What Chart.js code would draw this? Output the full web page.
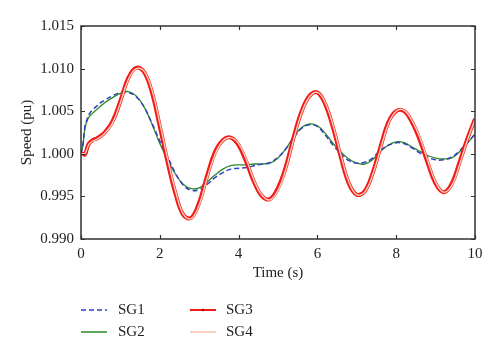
<!DOCTYPE html>
<html>
<head>
<meta charset="utf-8">
<script src="https://cdn.jsdelivr.net/npm/chart.js@4/dist/chart.umd.min.js"></script>
<style>
  html, body { margin: 0; padding: 0; background: #fff; }
  #wrap { position: relative; width: 500px; height: 358px; }
  canvas { position: absolute; left: 0; top: 0; }
  .leg { position: absolute; font-family: 'Liberation Serif', serif; font-size: 15px; color: #222; line-height: 18px; }
  #legend svg { position: absolute; display: block; }
</style>
</head>
<body>
<div id="wrap">
  <canvas id="c" width="500" height="358"></canvas>
  <div id="legend"></div>
</div>
<script>
// ---- data ----
const times = [0, 0.05, 0.1, 0.15, 0.2, 0.3, 0.4, 0.5, 0.6, 0.8, 1.0, 1.2, 1.4, 1.6, 1.8, 2.0, 2.2, 2.4, 2.6, 2.8, 3.0, 3.2, 3.4, 3.6, 3.8, 4.0, 4.2, 4.4, 4.6, 4.8, 5.0, 5.2, 5.4, 5.6, 5.8, 6.0, 6.2, 6.4, 6.6, 6.8, 7.0, 7.2, 7.4, 7.6, 7.8, 8.0, 8.2, 8.4, 8.6, 8.8, 9.0, 9.2, 9.4, 9.6, 9.8, 10.0];

const sg1 = [1.0000, 1.0012, 1.0032, 1.0040, 1.0046, 1.0052, 1.0056, 1.0060, 1.0063, 1.0068, 1.0072, 1.0072, 1.0067, 1.0055, 1.0036, 1.0015, 0.9996, 0.9977, 0.9963, 0.9957, 0.9958, 0.9964, 0.9972, 0.9978, 0.9982, 0.9983, 0.9984, 0.9986, 0.9988, 0.9990, 0.9996, 1.0006, 1.0019, 1.0030, 1.0034, 1.0032, 1.0022, 1.0010, 1.0000, 0.9992, 0.9989, 0.9990, 0.9995, 1.0004, 1.0010, 1.0013, 1.0012, 1.0007, 1.0001, 0.9996, 0.9993, 0.9993, 0.9996, 1.0003, 1.0013, 1.0023];

const sg2 = [1.0000, 1.0010, 1.0030, 1.0038, 1.0043, 1.0048, 1.0052, 1.0056, 1.0060, 1.0066, 1.0071, 1.0073, 1.0068, 1.0055, 1.0035, 1.0012, 0.9993, 0.9976, 0.9964, 0.9959, 0.9960, 0.9967, 0.9975, 0.9982, 0.9986, 0.9987, 0.9987, 0.9988, 0.9988, 0.9989, 0.9995, 1.0006, 1.0020, 1.0031, 1.0035, 1.0033, 1.0024, 1.0012, 1.0002, 0.9994, 0.9989, 0.9988, 0.9993, 1.0003, 1.0010, 1.0014, 1.0013, 1.0008, 1.0003, 0.9998, 0.9995, 0.9994, 0.9995, 1.0002, 1.0012, 1.0023];

const sg3 = [1.0000, 1.0000, 0.9999, 1.0006, 1.0012, 1.0016, 1.0018, 1.0021, 1.0025, 1.0038, 1.0062, 1.0089, 1.0101, 1.0096, 1.0072, 1.0032, 0.9990, 0.9953, 0.9928, 0.9925, 0.9943, 0.9974, 1.0002, 1.0016, 1.0019, 1.0010, 0.9990, 0.9966, 0.9950, 0.9947, 0.9960, 0.9985, 1.0020, 1.0050, 1.0068, 1.0072, 1.0058, 1.0030, 0.9995, 0.9965, 0.9952, 0.9956, 0.9977, 1.0008, 1.0037, 1.0050, 1.0050, 1.0037, 1.0016, 0.9989, 0.9965, 0.9955, 0.9964, 0.9989, 1.0017, 1.0041];

const sg4 = [1.0000, 1.0000, 1.0000, 1.0005, 1.0011, 1.0015, 1.0017, 1.0020, 1.0024, 1.0036, 1.0060, 1.0087, 1.0100, 1.0097, 1.0075, 1.0036, 0.9994, 0.9956, 0.9929, 0.9924, 0.9940, 0.9971, 0.9999, 1.0015, 1.0019, 1.0012, 0.9993, 0.9968, 0.9951, 0.9946, 0.9957, 0.9982, 1.0017, 1.0048, 1.0067, 1.0072, 1.0060, 1.0033, 0.9998, 0.9967, 0.9952, 0.9955, 0.9975, 1.0005, 1.0035, 1.0050, 1.0051, 1.0039, 1.0019, 0.9992, 0.9967, 0.9955, 0.9962, 0.9986, 1.0015, 1.0040];

const xTicks = [0, 2, 4, 6, 8, 10];
const yTicks = [0.990, 0.995, 1.000, 1.005, 1.010, 1.015];
const yTickLabels = ['0.990', '0.995', '1.000', '1.005', '1.010', '1.015'];
const seriesNames = ['SG1', 'SG2', 'SG3', 'SG4'];

// ---- styles ----
const FONT = "'Liberation Serif', 'Times New Roman', serif";
const styles = [
  { color: '#3040c0', width: 1.5, dash: [5, 3], order: 2 },
  { color: '#2a8a2a', width: 1.3, dash: [], order: 3 },
  { color: '#f41818', width: 4, dash: [], order: 1 },
  { color: '#f8d2bc', width: 1.4, dash: [], order: 0 }
];
const allSeries = [sg1, sg2, sg3, sg4];

const datasets = allSeries.map((s, i) => ({
  label: seriesNames[i],
  data: times.map((t, k) => ({ x: t, y: s[k] })),
  borderColor: styles[i].color,
  borderWidth: styles[i].width,
  borderDash: styles[i].dash,
  order: styles[i].order,
  pointRadius: 0,
  tension: 0.4,
  fill: false
}));

const framePlugin = {
  id: 'frame',
  afterDraw(chart) {
    const { ctx, chartArea: a, scales: { x, y } } = chart;
    ctx.save();
    ctx.strokeStyle = '#333';
    ctx.lineWidth = 1.5;
    ctx.beginPath();
    ctx.rect(a.left, a.top, a.right - a.left, a.bottom - a.top);
    ctx.stroke();
    ctx.lineWidth = 1.2;
    ctx.beginPath();
    const L = 4;
    xTicks.forEach(v => {
      const px = Math.round(x.getPixelForValue(v)) + 0.5;
      ctx.moveTo(px, a.bottom); ctx.lineTo(px, a.bottom - L);
      ctx.moveTo(px, a.top); ctx.lineTo(px, a.top + L);
    });
    yTicks.forEach(v => {
      const py = Math.round(y.getPixelForValue(v)) + 0.5;
      ctx.moveTo(a.left, py); ctx.lineTo(a.left + L, py);
      ctx.moveTo(a.right, py); ctx.lineTo(a.right - L, py);
    });
    ctx.stroke();
    ctx.restore();
  }
};

new Chart(document.getElementById('c'), {
  type: 'line',
  data: { datasets },
  options: {
    responsive: false,
    animation: false,
    devicePixelRatio: 1,
    layout: { padding: { top: 26, right: 25, left: 0, bottom: 69 } },
    plugins: { legend: { display: false }, tooltip: { enabled: false } },
    scales: {
      x: {
        type: 'linear', min: 0, max: 10,
        afterBuildTicks: s => { s.ticks = xTicks.map(v => ({ value: v })); },
        afterFit: s => { s.height = 50; },
        grid: { display: false, drawTicks: false },
        border: { display: false },
        ticks: { padding: 6, color: '#222', font: { family: FONT, size: 15 }, maxRotation: 0 },
        title: { display: true, text: 'Time (s)', color: '#222', font: { family: FONT, size: 15 }, padding: { top: 0, bottom: 7 } }
      },
      y: {
        type: 'linear', min: 0.990, max: 1.015,
        afterBuildTicks: s => { s.ticks = yTicks.map(v => ({ value: v })); },
        afterFit: s => { s.width = 81; },
        grid: { display: false, drawTicks: false },
        border: { display: false },
        ticks: {
          padding: 7, color: '#222', font: { family: FONT, size: 15 },
          callback: (v) => { const i = yTicks.findIndex(t => Math.abs(t - v) < 1e-9); return i >= 0 ? yTickLabels[i] : ''; }
        },
        title: { display: true, text: 'Speed (pu)', color: '#222', font: { family: FONT, size: 15 }, padding: { top: 18, bottom: 0 } }
      }
    }
  },
  plugins: [framePlugin]
});

// ---- legend (HTML) ----
const legendPos = [
  { lx: 81, ty: 310, tx: 118 },
  { lx: 81, ty: 332, tx: 118 },
  { lx: 190, ty: 310, tx: 226 },
  { lx: 190, ty: 332, tx: 226 }
];
const legend = document.getElementById('legend');
seriesNames.forEach((name, i) => {
  const p = legendPos[i];
  const st = styles[i];
  const w = 26;
  const lw = i === 2 ? 2 : (i === 3 ? 2 : 1.5);
  const dash = st.dash.length ? `stroke-dasharray="${st.dash.join(',')}"` : '';
  const dot = i === 2 ? `<circle cx="${w / 2}" cy="5" r="1.3" fill="#b00000"/>` : '';
  const svg = `<svg width="${w}" height="10" style="left:${p.lx}px;top:${p.ty - 5}px" xmlns="http://www.w3.org/2000/svg"><line x1="0" y1="5" x2="${w}" y2="5" stroke="${st.color}" stroke-width="${lw}" ${dash}/>${dot}</svg>`;
  const text = `<div class="leg" style="left:${p.tx}px;top:${p.ty - 10}px">${name}</div>`;
  legend.insertAdjacentHTML('beforeend', svg + text);
});
</script>
</body>
</html>
